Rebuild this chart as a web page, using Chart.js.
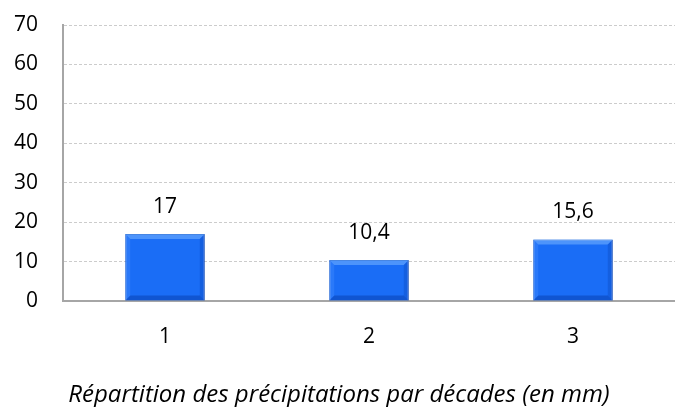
<!DOCTYPE html>
<html>
<head>
<meta charset="utf-8">
<script src="https://cdn.jsdelivr.net/npm/chart.js@4"></script>
<style>
  html, body { margin: 0; padding: 0; background: #ffffff; }
  #wrap { width: 675px; height: 407px; }
</style>
</head>
<body>
<div id="wrap"><canvas id="c" width="675" height="407"></canvas></div>
<script>
const categories = ["1", "2", "3"];
const values = [17, 10.4, 15.6];
const valueLabels = ["17", "10,4", "15,6"];
const yTicks = [0, 10, 20, 30, 40, 50, 60, 70];
const titleText = "Répartition des précipitations par décades (en mm)";

const FONT = '"Open Sans", "Liberation Sans", sans-serif';

const barLabels = {
  id: 'barLabels',
  afterDatasetsDraw(chart) {
    const ctx = chart.ctx;
    const meta = chart.getDatasetMeta(0);
    ctx.save();
    ctx.font = '21px ' + FONT;
    ctx.fillStyle = '#000';
    ctx.textAlign = 'center';
    ctx.textBaseline = 'middle';
    meta.data.forEach((bar, i) => {
      ctx.fillText(valueLabels[i], bar.x, bar.y - 27);
    });
    ctx.restore();
  }
};

const bevel = {
  id: 'bevel',
  afterDatasetsDraw(chart) {
    const ctx = chart.ctx;
    const meta = chart.getDatasetMeta(0);
    ctx.save();
    meta.data.forEach(bar => {
      const l = bar.x - bar.width / 2, r = bar.x + bar.width / 2;
      const t = bar.y, b = bar.base;
      const d = 5;
      ctx.fillStyle = 'rgba(120,180,255,0.55)';
      ctx.beginPath(); ctx.moveTo(l, t); ctx.lineTo(r, t); ctx.lineTo(r - d, t + d); ctx.lineTo(l + d, t + d); ctx.closePath(); ctx.fill();
      ctx.fillStyle = 'rgba(0,40,140,0.35)';
      ctx.beginPath(); ctx.moveTo(l, b); ctx.lineTo(r, b); ctx.lineTo(r - d, b - d); ctx.lineTo(l + d, b - d); ctx.closePath(); ctx.fill();
      ctx.fillStyle = 'rgba(0,40,140,0.2)';
      ctx.beginPath(); ctx.moveTo(r, t); ctx.lineTo(r, b); ctx.lineTo(r - d, b - d); ctx.lineTo(r - d, t + d); ctx.closePath(); ctx.fill();
      ctx.fillStyle = 'rgba(80,150,255,0.3)';
      ctx.beginPath(); ctx.moveTo(l, t); ctx.lineTo(l, b); ctx.lineTo(l + d, b - d); ctx.lineTo(l + d, t + d); ctx.closePath(); ctx.fill();
    });
    ctx.restore();
  }
};

new Chart(document.getElementById('c'), {
  type: 'bar',
  data: {
    labels: categories,
    datasets: [{
      data: values,
      backgroundColor: '#1A6DF6',
      borderColor: '#0C4FC2',
      borderWidth: 1,
      barPercentage: 0.39,
      categoryPercentage: 1.0
    }]
  },
  options: {
    responsive: false,
    animation: false,
    layout: { padding: { top: 0, right: -3, left: 0, bottom: 0 } },
    plugins: {
      legend: { display: false },
      tooltip: { enabled: false },
      title: {
        display: true,
        text: titleText,
        position: 'bottom',
        color: '#000',
        font: { family: FONT, size: 24, style: 'italic', weight: 'normal', lineHeight: 1.0 },
        padding: { top: 24, bottom: 0 }
      }
    },
    scales: {
      x: {
        grid: { display: false, drawTicks: false },
        border: { display: true, color: '#a6a6a6', width: 2 },
        ticks: { color: '#000', padding: 23, font: { family: FONT, size: 21 } },
        afterFit(s) { s.height = 58; }
      },
      y: {
        min: 0, max: 70,
        afterBuildTicks(s) { s.ticks = yTicks.map(v => ({ value: v })); },
        grid: { color: '#cccccc', drawTicks: false, lineWidth: 1 },
        border: { display: true, color: '#a6a6a6', width: 2, dash: [3, 2] },
        ticks: { color: '#000', padding: 25, font: { family: FONT, size: 21 } },
        afterFit(s) { s.width = 63; s.paddingTop = 25; s.paddingBottom = 0; }
      }
    }
  },
  plugins: [barLabels, bevel]
});
</script>
</body>
</html>
